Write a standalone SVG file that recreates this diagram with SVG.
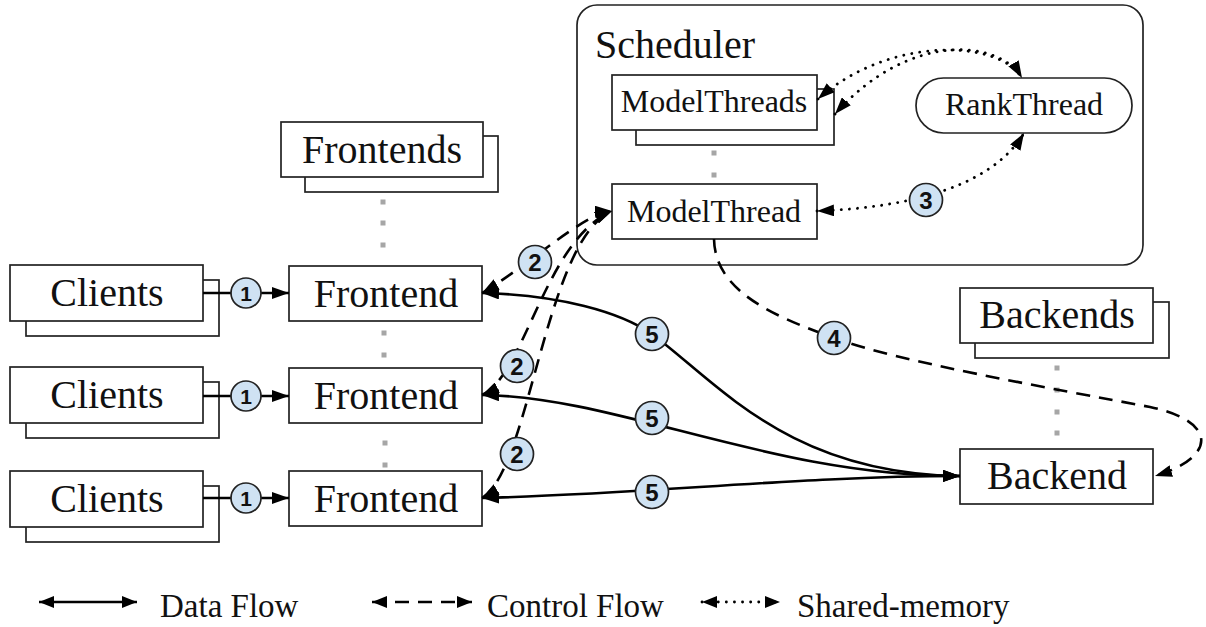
<svg xmlns="http://www.w3.org/2000/svg" width="1206" height="627" viewBox="0 0 1206 627">
  <style>
    .box { fill: #ffffff; stroke: #222222; stroke-width: 1.7; }
    .lbl { font-family: "Liberation Serif", "DejaVu Serif", serif; fill: #111111; text-anchor: middle; }
    .big { font-size: 40px; }
    .mid { font-size: 32px; }
    .leg { font-family: "Liberation Serif", "DejaVu Serif", serif; font-size: 33px; fill: #111111; }
    .dot { fill: #a6a6a6; }
    .data { fill: none; stroke: #000000; stroke-width: 2.6; }
    .ctrl { fill: none; stroke: #000000; stroke-width: 2.6; stroke-dasharray: 14 9; }
    .shm { fill: none; stroke: #000000; stroke-width: 2.8; stroke-dasharray: 0.1 8; stroke-linecap: round; }
    .badge circle { fill: #cfe2f3; stroke: #222222; stroke-width: 1.7; }
    .badge text { font-family: "Liberation Sans", Arial, sans-serif; font-weight: bold; font-size: 24px; fill: #111111; text-anchor: middle; }
    .badge.sm text { font-size: 21px; }
    .head { fill: #000000; stroke: none; }
  </style>
  <defs>
    <marker id="arrow" viewBox="0 0 17 12" refX="17" refY="6" markerWidth="17" markerHeight="12" markerUnits="userSpaceOnUse" orient="auto-start-reverse">
      <path class="head" d="M0,0 L17,6 L0,12 z"/>
    </marker>
    <marker id="arrowSmall" viewBox="0 0 15 12" refX="15" refY="6" markerWidth="15" markerHeight="12" markerUnits="userSpaceOnUse" orient="auto-start-reverse">
      <path class="head" d="M0,0 L15,6 L0,12 z"/>
    </marker>
  </defs>

  <!-- Scheduler container -->
  <g id="scheduler">
    <rect x="577" y="5" width="566" height="260" rx="20" ry="20" fill="#ffffff" stroke="#222222" stroke-width="1.7"/>
    <text class="lbl big" x="675" y="58">Scheduler</text>
  </g>

  <g id="modelthreads">
    <rect class="box" x="636" y="89" width="198" height="56"/>
    <rect class="box" x="612" y="75" width="205" height="55"/>
    <text class="lbl mid" x="714" y="112">ModelThreads</text>
  </g>

  <g id="modelthread">
    <rect class="box" x="612" y="184" width="205" height="55"/>
    <text class="lbl mid" x="714" y="222">ModelThread</text>
  </g>

  <g id="rankthread">
    <rect class="box" x="916" y="78" width="216" height="55" rx="27.5" ry="27.5"/>
    <text class="lbl mid" x="1024" y="115">RankThread</text>
  </g>

  <g id="frontends">
    <rect class="box" x="305" y="136" width="193" height="56"/>
    <rect class="box" x="281" y="122" width="202" height="55"/>
    <text class="lbl big" x="382" y="163">Frontends</text>
  </g>

  <g id="frontend1">
    <rect class="box" x="289" y="266" width="193" height="55"/>
    <text class="lbl big" x="386" y="307">Frontend</text>
  </g>
  <g id="frontend2">
    <rect class="box" x="289" y="368" width="193" height="55"/>
    <text class="lbl big" x="386" y="409">Frontend</text>
  </g>
  <g id="frontend3">
    <rect class="box" x="289" y="471" width="193" height="55"/>
    <text class="lbl big" x="386" y="512">Frontend</text>
  </g>

  <g id="clients1">
    <rect class="box" x="26" y="280" width="193" height="56"/>
    <rect class="box" x="10" y="265" width="193" height="56"/>
    <text class="lbl big" x="107" y="306">Clients</text>
  </g>
  <g id="clients2">
    <rect class="box" x="26" y="382" width="193" height="56"/>
    <rect class="box" x="10" y="367" width="193" height="56"/>
    <text class="lbl big" x="107" y="408">Clients</text>
  </g>
  <g id="clients3">
    <rect class="box" x="26" y="486" width="193" height="56"/>
    <rect class="box" x="10" y="471" width="193" height="56"/>
    <text class="lbl big" x="107" y="512">Clients</text>
  </g>

  <g id="backends">
    <rect class="box" x="975" y="302" width="194" height="56"/>
    <rect class="box" x="960" y="288" width="193" height="55"/>
    <text class="lbl big" x="1057" y="328">Backends</text>
  </g>

  <g id="backend">
    <rect class="box" x="960" y="449" width="193" height="55"/>
    <text class="lbl big" x="1057" y="489">Backend</text>
  </g>

  <!-- grey "more of these" ellipses between stacked nodes -->
  <g id="ellipses">
    <rect class="dot" x="380.5" y="199.5" width="5" height="5"/>
    <rect class="dot" x="380.5" y="220.5" width="5" height="5"/>
    <rect class="dot" x="380.5" y="242.5" width="5" height="5"/>
    <rect class="dot" x="381.5" y="330.5" width="5" height="5"/>
    <rect class="dot" x="381.5" y="352.5" width="5" height="5"/>
    <rect class="dot" x="382.5" y="440.5" width="5" height="5"/>
    <rect class="dot" x="382.5" y="462.5" width="5" height="5"/>
    <rect class="dot" x="711.5" y="150.5" width="5" height="5"/>
    <rect class="dot" x="711.5" y="172.5" width="5" height="5"/>
    <rect class="dot" x="1054.5" y="365.5" width="5" height="5"/>
    <rect class="dot" x="1054.5" y="387.5" width="5" height="5"/>
    <rect class="dot" x="1054.5" y="409.5" width="5" height="5"/>
    <rect class="dot" x="1054.5" y="430.5" width="5" height="5"/>
  </g>

  <g id="connectors">
    <!-- 1: clients to frontends -->
    <path class="data" d="M203 293 L289 293" marker-end="url(#arrow)"/>
    <path class="data" d="M203 396 L289 396" marker-end="url(#arrow)"/>
    <path class="data" d="M203 498 L289 498" marker-end="url(#arrow)"/>

    <!-- 2: frontends <-> model thread (control) -->
    <path class="ctrl" d="M482 293 C528 266 585 212 612 211" marker-start="url(#arrow)" marker-end="url(#arrow)"/>
    <path class="ctrl" d="M482 395 C525 375 545 240 612 211" marker-start="url(#arrow)" marker-end="url(#arrow)"/>
    <path class="ctrl" d="M482 498 C530 470 545 240 612 211" marker-start="url(#arrow)" marker-end="url(#arrow)"/>

    <!-- 3: model thread <-> rank thread (shared memory) -->
    <path class="shm" d="M817 211 C900 208 990 190 1024 133" marker-start="url(#arrow)" marker-end="url(#arrow)"/>
    <path class="shm" d="M818 99 C890 35 1000 40 1022 78" marker-start="url(#arrow)" marker-end="url(#arrow)"/>
    <path class="shm" d="M835 114 C910 30 1000 40 1022 78" marker-start="url(#arrow)"/>

    <!-- 4: model thread to backend (control) -->
    <path class="ctrl" d="M714 239 C715 290 770 315 834 338 C900 362 1050 388 1150 407 C1220 422 1215 458 1155 476" marker-end="url(#arrow)"/>

    <!-- 5: backend <-> frontends (data) -->
    <path class="data" d="M482 293 C560 295 620 312 652 334 C720 385 790 474 960 476" marker-start="url(#arrow)" marker-end="url(#arrow)"/>
    <path class="data" d="M482 395 C620 397 770 476 960 476" marker-start="url(#arrow)" marker-end="url(#arrow)"/>
    <path class="data" d="M482 498 C650 494 800 476 960 476" marker-start="url(#arrow)" marker-end="url(#arrow)"/>
  </g>

  <!-- step numbers -->
  <g id="badges">
    <g class="badge sm"><circle cx="246" cy="293" r="15"/><text x="246" y="300.5">1</text></g>
    <g class="badge sm"><circle cx="246" cy="396" r="15"/><text x="246" y="403.5">1</text></g>
    <g class="badge sm"><circle cx="246" cy="498" r="15"/><text x="246" y="505.5">1</text></g>
    <g class="badge"><circle cx="535" cy="262" r="16.5"/><text x="535" y="270.5">2</text></g>
    <g class="badge"><circle cx="517" cy="366" r="16.5"/><text x="517" y="374.5">2</text></g>
    <g class="badge"><circle cx="517" cy="454" r="16.5"/><text x="517" y="462.5">2</text></g>
    <g class="badge"><circle cx="926" cy="200" r="16.5"/><text x="926" y="208.5">3</text></g>
    <g class="badge"><circle cx="834" cy="338" r="16.5"/><text x="834" y="346.5">4</text></g>
    <g class="badge"><circle cx="652" cy="334" r="16.5"/><text x="652" y="342.5">5</text></g>
    <g class="badge"><circle cx="652" cy="418" r="16.5"/><text x="652" y="426.5">5</text></g>
    <g class="badge"><circle cx="652" cy="492" r="16.5"/><text x="652" y="500.5">5</text></g>
  </g>

  <!-- legend -->
  <g id="legend">
    <path class="data" d="M39 602 L137 602" marker-start="url(#arrowSmall)" marker-end="url(#arrowSmall)"/>
    <text class="leg" x="160" y="617">Data Flow</text>
    <path class="ctrl" d="M372 602 L472 602" stroke-dasharray="16 9" marker-start="url(#arrowSmall)" marker-end="url(#arrowSmall)"/>
    <text class="leg" x="487" y="617">Control Flow</text>
    <path class="shm" d="M702 602 L780 602" stroke-width="2.2" stroke-dasharray="0.1 7" marker-start="url(#arrowSmall)" marker-end="url(#arrowSmall)"/>
    <text class="leg" x="797" y="617">Shared-memory</text>
  </g>
</svg>
